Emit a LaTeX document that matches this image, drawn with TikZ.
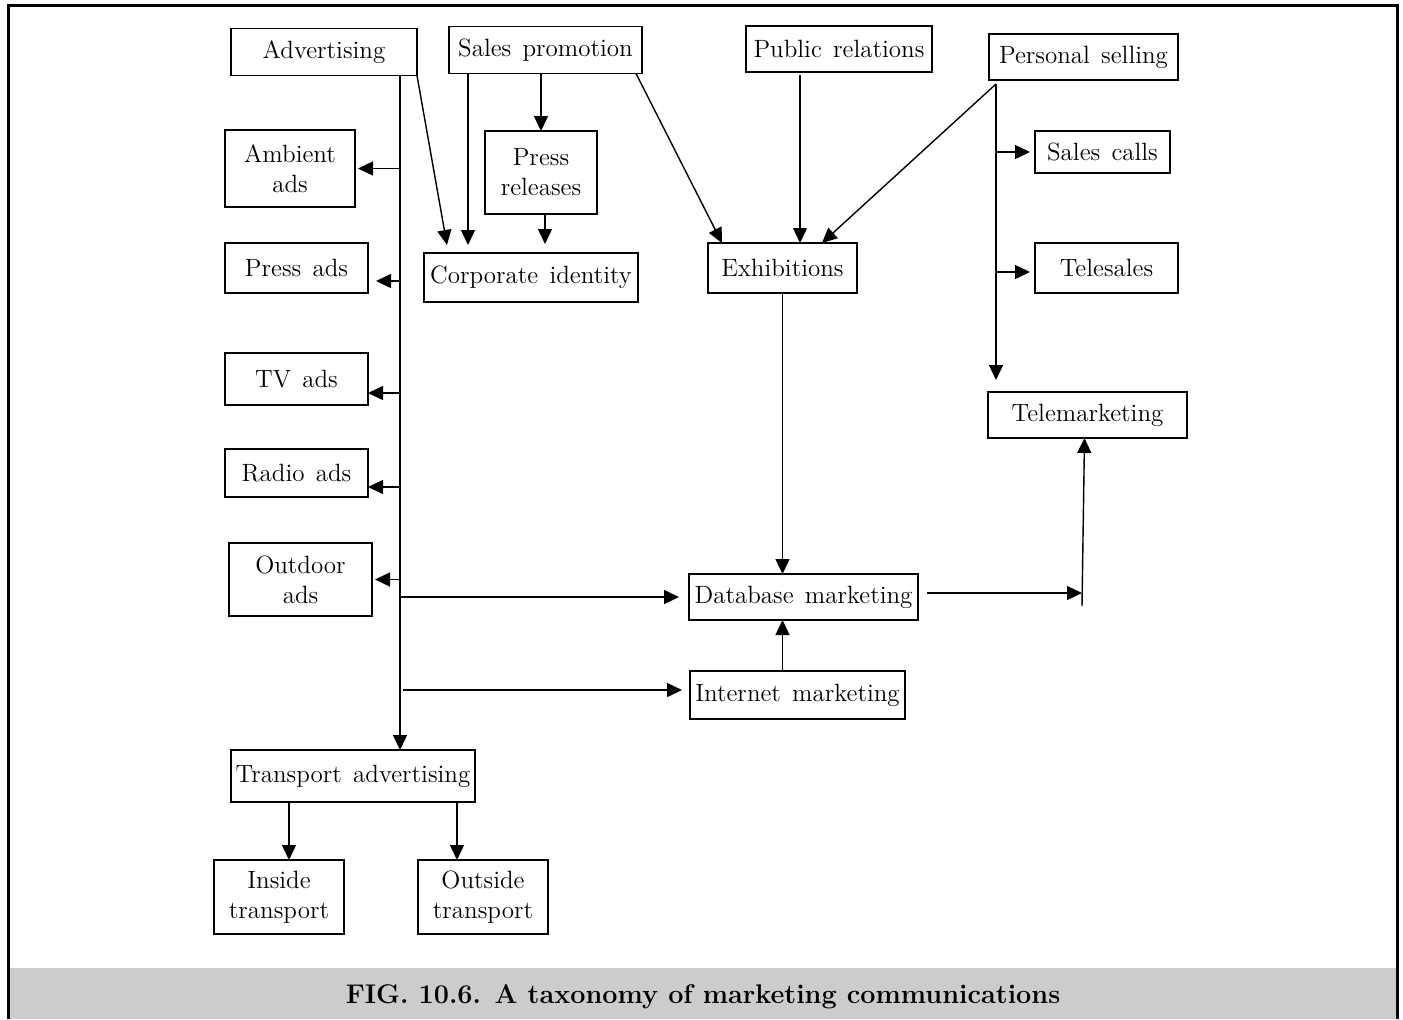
\documentclass[tikz,border=0pt]{standalone}
\usepackage{tikz}
\usetikzlibrary{arrows.meta,calc}
\newcommand{\boxfont}{\fontsize{12.5}{15}\selectfont\spaceskip=0.45em plus 0.1em\relax}

\begin{document}
\begin{tikzpicture}[
  x=0.5pt, y=-0.5pt,
  box/.style={draw, line width=0.9pt, align=center, inner sep=1pt, outer sep=0pt,
              font=\boxfont},
  flow/.style={-{Triangle[length=7.5pt,width=7pt]}, line width=0.7pt},
  gap/.style={shorten >=#1},
  caption/.style={font=\fontsize{13.5}{16}\selectfont\bfseries}
]
\useasboundingbox (0,0) rectangle (1403,1019);

% frame and caption band
\fill[black!20] (8,968) rectangle (1397,1019);
\draw[line width=1.5pt] (8,1019) -- (8,5) -- (1397,5) -- (1397,1019);
\node[caption] (fig) at (703,997) {FIG. 10.6. A taxonomy of marketing communications};

% top level
\node[box, minimum width=93pt, minimum height=23.5pt] (adv) at (324,52) {Advertising};
\node[box, minimum width=96.5pt, minimum height=23.5pt] (sp) at (545.5,50) {Sales promotion};
\node[box, minimum width=93pt, minimum height=23pt] (pr) at (839,49) {Public relations};
\node[box, minimum width=94.5pt, minimum height=23pt] (ps) at (1083.5,57) {Personal selling};

% advertising branch
\node[box, minimum width=65pt, minimum height=38.5pt] (ambient) at (290,168.5) {Ambient\\ads};
\node[box, minimum width=71.5pt, minimum height=25pt] (pressads) at (296.5,268) {Press ads};
\node[box, minimum width=71.5pt, minimum height=26pt] (tv) at (296.5,379) {TV ads};
\node[box, minimum width=71.5pt, minimum height=24pt] (radio) at (296.5,473) {Radio ads};
\node[box, minimum width=71.5pt, minimum height=36.5pt] (outdoor) at (300.5,579.5) {Outdoor\\ads};
\node[box, minimum width=122pt, minimum height=26pt] (ta) at (353,776) {Transport advertising};
\node[box, minimum width=65pt, minimum height=37pt] (inside) at (279,897) {Inside\\transport};
\node[box, minimum width=65pt, minimum height=37pt] (outside) at (483,897) {Outside\\transport};

% middle
\node[box, minimum width=56pt, minimum height=41.5pt] (release) at (541,172.5) {Press\\releases};
\node[box, minimum width=107pt, minimum height=24.5pt] (corp) at (531,277.5) {Corporate identity};
\node[box, minimum width=74.5pt, minimum height=25pt] (exh) at (782.5,268) {Exhibitions};
\node[box, minimum width=114.5pt, minimum height=23pt] (db) at (803.5,597) {Database marketing};
\node[box, minimum width=107.5pt, minimum height=24pt] (net) at (797.5,695) {Internet marketing};

% personal selling branch
\node[box, minimum width=67.5pt, minimum height=21pt] (calls) at (1102.5,152) {Sales calls};
\node[box, minimum width=71.5pt, minimum height=25pt] (telesales) at (1106.5,268) {Telesales};
\node[box, minimum width=99.5pt, minimum height=23pt] (tm) at (1087.5,415) {Telemarketing};

\coordinate (trunk) at (400,0);
\coordinate (pstrunk) at ($(ps.south west)+(7,4)$);
\coordinate (turn) at (1082,593);

% advertising trunk
\draw[flow] (adv.south -| trunk) -- (trunk |- ta.north);
\draw[flow, gap=1.5pt] (trunk |- ambient.east) -- (ambient.east);
\draw[flow, gap=4pt] ($(trunk |- pressads.east)+(0,13)$) -- ($(pressads.east)+(0,13)$);
\draw[flow] ($(trunk |- tv.east)+(0,14)$) -- ($(tv.east)+(0,14)$);
\draw[flow] ($(trunk |- radio.east)+(0,14)$) -- ($(radio.east)+(0,14)$);
\draw[flow, gap=1.5pt] (trunk |- outdoor.east) -- (outdoor.east);
\draw[flow, gap=5pt] (trunk |- db.west) -- (db.west);
\draw[flow, gap=4pt] ($(trunk |- net.west)+(3,-5)$) -- ($(net.west)+(0,-5)$);

% transport
\draw[flow] ($(ta.south west)+(58,0)$) -- ($(inside.north)+(10,0)$);
\draw[flow] ($(ta.south west)+(226,0)$) -- ($(outside.north)+(-26,0)$);

% into corporate identity
\draw[flow] (adv.south east) -- ($(corp.north west)+(23,-8)$);
\draw[flow] ($(sp.south west)+(19,0)$) -- ($(corp.north west)+(44,-8)$);
\draw[flow] (sp.south -| release.north) -- (release.north);
\draw[flow] ($(release.south)+(4,0)$) -- ($(corp.north west)+(121,-9)$);

% into exhibitions
\draw[flow] ($(sp.south east)+(-6,0)$) -- ($(exh.north west)+(14,0)$);
\draw[flow] ($(pr.south west)+(54,3)$) -- ($(exh.north west)+(92,0)$);
\draw[flow] (pstrunk) -- ($(exh.north west)+(114,0)$);

% personal selling trunk
\draw[flow, gap=6pt] (pstrunk) -- (pstrunk |- tm.north);
\draw[flow, gap=2.5pt] (pstrunk |- calls.west) -- (calls.west);
\draw[flow, gap=2.5pt] ($(pstrunk |- telesales.west)+(0,4)$) -- ($(telesales.west)+(0,4)$);

% database links
\draw[flow] (exh.south) -- (exh.south |- db.north);
\draw[flow] (net.north -| exh.south) -- (db.south -| exh.south);
\draw[flow] ($(db.east)+(9,-4)$) -- (turn);
\draw[flow] ($(turn)+(0,13)$) -- ($(tm.south)+(-3,0)$);
\end{tikzpicture}
\end{document}
